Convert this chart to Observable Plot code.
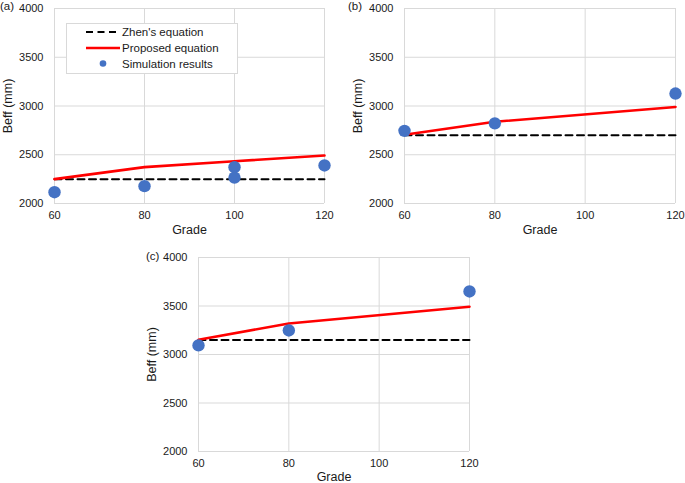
<!DOCTYPE html>
<html><head><meta charset="utf-8">
<script src="https://cdn.jsdelivr.net/npm/d3@7"></script>
<script src="https://cdn.jsdelivr.net/npm/@observablehq/plot@0.6"></script>
<style>
body{margin:0;background:#fff;font-family:"Liberation Sans",Arial,sans-serif;}
#wrap{position:relative;width:685px;height:483px;overflow:hidden;background:#fff;}
.panel{position:absolute;}
.tag{position:absolute;font-size:11.5px;color:#1a1a1a;line-height:1;}
</style></head><body><div id="wrap"></div>
<script>
// shared axes
const gradeTicks = [60, 80, 100, 120];
const beffTicks = [2000, 2500, 3000, 3500, 4000];
const zhenGrades = [60, 120];

// panel (a)
const gradeA = [60, 80, 100, 120];
const proposedA = [2250, 2373, 2434, 2492];
const zhenA = [2250, 2250];
const simGradeA = [60, 80, 100, 100, 120];
const simA = [2116, 2178, 2373, 2265, 2390];

// panel (b)
const gradeB = [60, 80, 120];
const proposedB = [2705, 2838, 2990];
const zhenB = [2700, 2700];
const simGradeB = [60, 80, 120];
const simB = [2745, 2822, 3128];

// panel (c)
const gradeC = [60, 80, 120];
const proposedC = [3152, 3320, 3492];
const zhenC = [3150, 3150];
const simGradeC = [60, 80, 120];
const simC = [3094, 3248, 3650];

const FONT = '"Liberation Sans", Arial, sans-serif';
const wrap = document.getElementById("wrap");

function panel(opt) {
  const prop = opt.propX.map((g, i) => ({g, v: opt.propY[i]}));
  const zhen = zhenGrades.map((g, i) => ({g, v: opt.zhenY[i]}));
  const sim = opt.simX.map((g, i) => ({g, v: opt.simY[i]}));
  const chart = Plot.plot({
    width: opt.width, height: opt.height,
    marginLeft: opt.ml, marginRight: opt.mr, marginTop: opt.mt, marginBottom: opt.mb,
    style: {fontFamily: FONT, fontSize: "11px", color: "#1a1a1a", background: "transparent", overflow: "visible"},
    x: {domain: [60, 120]},
    y: {domain: [2000, 4000]},
    marks: [
      Plot.gridX(gradeTicks, {stroke: "#d9d9d9", strokeOpacity: 1, strokeWidth: 1}),
      Plot.gridY(beffTicks, {stroke: "#d9d9d9", strokeOpacity: 1, strokeWidth: 1}),
      Plot.axisX(gradeTicks, {tickSize: 0, tickPadding: 8, label: null, fontSize: 11}),
      Plot.axisY(beffTicks, {tickSize: 0, tickPadding: 11, label: null, tickFormat: d3.format("d"), fontSize: 11}),
      Plot.axisX([], {label: "Grade", labelAnchor: "center", labelArrow: "none", labelOffset: opt.xlo, fontSize: 12.5}),
      Plot.axisY([], {label: "Beff (mm)", labelAnchor: "center", labelArrow: "none", labelOffset: 51, fontSize: 12.5}),
      Plot.line(zhen, {x: "g", y: "v", stroke: "#000", strokeWidth: 2, strokeDasharray: "7,4.5"}),
      Plot.line(prop, {x: "g", y: "v", stroke: "#ff0000", strokeWidth: 2.6}),
      Plot.dot(sim, {x: "g", y: "v", r: 6.2, fill: "#4472c4", stroke: "none"})
    ]
  });
  const div = document.createElement("div");
  div.className = "panel";
  div.style.left = opt.left + "px";
  div.style.top = opt.top + "px";
  div.appendChild(chart);
  wrap.appendChild(div);
  const tag = document.createElement("div");
  tag.className = "tag";
  tag.textContent = opt.tag;
  tag.style.left = opt.tagX + "px";
  tag.style.top = opt.tagY + "px";
  wrap.appendChild(tag);
}

panel({left: 0, top: 0, width: 340, height: 240, ml: 54, mr: 16, mt: 8, mb: 37, xlo: 30,
  propX: gradeA, propY: proposedA, zhenY: zhenA, simX: simGradeA, simY: simA, tag: "(a)", tagX: 0, tagY: 1});
panel({left: 340, top: 0, width: 345, height: 240, ml: 64, mr: 10, mt: 8, mb: 37, xlo: 30,
  propX: gradeB, propY: proposedB, zhenY: zhenB, simX: simGradeB, simY: simB, tag: "(b)", tagX: 348, tagY: 1});
panel({left: 140, top: 240, width: 345, height: 243, ml: 58, mr: 16, mt: 17, mb: 32, xlo: 29,
  propX: gradeC, propY: proposedC, zhenY: zhenC, simX: simGradeC, simY: simC, tag: "(c)", tagX: 146, tagY: 251});

// legend (panel a)
const legendItems = ["Zhen's equation", "Proposed equation", "Simulation results"];
const ns = "http://www.w3.org/2000/svg";
const lg = document.createElementNS(ns, "svg");
lg.setAttribute("width", 172); lg.setAttribute("height", 51);
lg.style.position = "absolute"; lg.style.left = "66px"; lg.style.top = "23px";
lg.innerHTML = `
  <rect x="0.5" y="0.5" width="171" height="50" fill="#fff" stroke="#d9d9d9"/>
  <line x1="20" x2="54" y1="9" y2="9" stroke="#000" stroke-width="2" stroke-dasharray="7,4.5"/>
  <line x1="20" x2="54" y1="25" y2="25" stroke="#ff0000" stroke-width="2.6"/>
  <circle cx="37" cy="40.5" r="3.3" fill="#4472c4"/>
` + legendItems.map((t, i) => `<text x="56" y="${[9, 25, 40.5][i]}" dy="0.35em" font-family='${FONT}' font-size="11.5" fill="#1a1a1a">${t}</text>`).join("");
wrap.appendChild(lg);
</script></body></html>
